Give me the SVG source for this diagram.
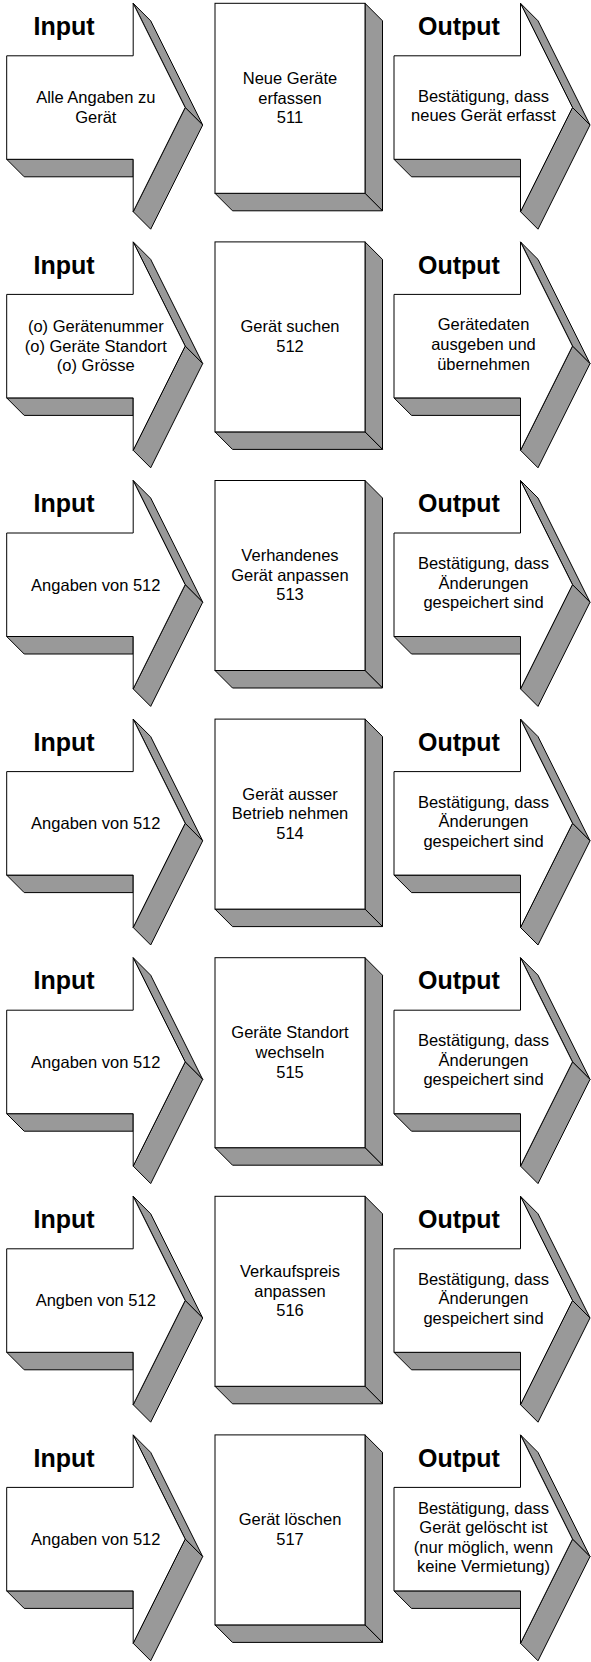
<svg xmlns="http://www.w3.org/2000/svg" xmlns:xlink="http://www.w3.org/1999/xlink" width="591" height="1662" viewBox="0 0 591 1662">
<style>
.front{fill:#ffffff;stroke:#000000;stroke-width:1;stroke-linejoin:miter}
.side{fill:#999999;stroke:#000000;stroke-width:1;stroke-linejoin:miter}
.title{font-family:"Liberation Sans",Arial,sans-serif;font-weight:bold;font-size:25px;fill:#000;text-anchor:middle}
.body{font-family:"Liberation Sans",Arial,sans-serif;font-size:16.5px;fill:#000;text-anchor:middle}
</style>
<defs>
<g id="arrowShape">
<polygon class="side" points="0,156 17.5,173.5 126.5,173.5 126.5,156"/>
<polygon class="side" points="126.5,0 144,17.5 196,121.7 178.5,104.2"/>
<polygon class="side" points="178.5,104.2 196,121.7 144,225.9 126.5,208.4"/>
<polygon class="front" points="0,52.5 126.5,52.5 126.5,0 178.5,104.2 126.5,208.4 126.5,156 0,156"/>
</g>
<g id="boxShape">
<polygon class="side" points="150,0 167.5,17.5 167.5,207.5 150,190"/>
<polygon class="side" points="0,190 17.5,207.5 167.5,207.5 150,190"/>
<rect class="front" x="0" y="0" width="150" height="190"/>
</g>
</defs>
<g id="connectors"/>

<!-- Row 1 -->
<g id="input-511" transform="translate(0,3.3)">
<use xlink:href="#arrowShape" href="#arrowShape" x="6.7"/>
<text class="title" x="64" y="31.7">Input</text>
<text class="body"><tspan x="95.8" y="100.2">Alle Angaben zu</tspan><tspan x="95.8" y="119.8">Gerät</tspan></text>
</g>
<g id="process-511" transform="translate(0,3.3)">
<use xlink:href="#boxShape" href="#boxShape" x="215"/>
<text class="body"><tspan x="290" y="80.7">Neue Geräte</tspan><tspan x="290" y="100.3">erfassen</tspan><tspan x="290" y="119.9">511</tspan></text>
</g>
<g id="output-511" transform="translate(0,3.3)">
<use xlink:href="#arrowShape" href="#arrowShape" x="394"/>
<text class="title" x="459" y="31.7">Output</text>
<text class="body"><tspan x="483.5" y="98.4">Bestätigung, dass</tspan><tspan x="483.5" y="118">neues Gerät erfasst</tspan></text>
</g>

<!-- Row 2 -->
<g id="input-512" transform="translate(0,241.9)">
<use xlink:href="#arrowShape" href="#arrowShape" x="6.7"/>
<text class="title" x="64" y="31.7">Input</text>
<text class="body"><tspan x="95.8" y="90.4">(o) Gerätenummer</tspan><tspan x="95.8" y="110">(o) Geräte Standort</tspan><tspan x="95.8" y="129.6">(o) Grösse</tspan></text>
</g>
<g id="process-512" transform="translate(0,241.9)">
<use xlink:href="#boxShape" href="#boxShape" x="215"/>
<text class="body"><tspan x="290" y="90.5">Gerät suchen</tspan><tspan x="290" y="110.1">512</tspan></text>
</g>
<g id="output-512" transform="translate(0,241.9)">
<use xlink:href="#arrowShape" href="#arrowShape" x="394"/>
<text class="title" x="459" y="31.7">Output</text>
<text class="body"><tspan x="483.5" y="88.6">Gerätedaten</tspan><tspan x="483.5" y="108.2">ausgeben und</tspan><tspan x="483.5" y="127.8">übernehmen</tspan></text>
</g>

<!-- Row 3 -->
<g id="input-513" transform="translate(0,480.5)">
<use xlink:href="#arrowShape" href="#arrowShape" x="6.7"/>
<text class="title" x="64" y="31.7">Input</text>
<text class="body"><tspan x="95.8" y="110">Angaben von 512</tspan></text>
</g>
<g id="process-513" transform="translate(0,480.5)">
<use xlink:href="#boxShape" href="#boxShape" x="215"/>
<text class="body"><tspan x="290" y="80.7">Verhandenes</tspan><tspan x="290" y="100.3">Gerät anpassen</tspan><tspan x="290" y="119.9">513</tspan></text>
</g>
<g id="output-513" transform="translate(0,480.5)">
<use xlink:href="#arrowShape" href="#arrowShape" x="394"/>
<text class="title" x="459" y="31.7">Output</text>
<text class="body"><tspan x="483.5" y="88.6">Bestätigung, dass</tspan><tspan x="483.5" y="108.2">Änderungen</tspan><tspan x="483.5" y="127.8">gespeichert sind</tspan></text>
</g>

<!-- Row 4 -->
<g id="input-514" transform="translate(0,719.1)">
<use xlink:href="#arrowShape" href="#arrowShape" x="6.7"/>
<text class="title" x="64" y="31.7">Input</text>
<text class="body"><tspan x="95.8" y="110">Angaben von 512</tspan></text>
</g>
<g id="process-514" transform="translate(0,719.1)">
<use xlink:href="#boxShape" href="#boxShape" x="215"/>
<text class="body"><tspan x="290" y="80.7">Gerät ausser</tspan><tspan x="290" y="100.3">Betrieb nehmen</tspan><tspan x="290" y="119.9">514</tspan></text>
</g>
<g id="output-514" transform="translate(0,719.1)">
<use xlink:href="#arrowShape" href="#arrowShape" x="394"/>
<text class="title" x="459" y="31.7">Output</text>
<text class="body"><tspan x="483.5" y="88.6">Bestätigung, dass</tspan><tspan x="483.5" y="108.2">Änderungen</tspan><tspan x="483.5" y="127.8">gespeichert sind</tspan></text>
</g>

<!-- Row 5 -->
<g id="input-515" transform="translate(0,957.7)">
<use xlink:href="#arrowShape" href="#arrowShape" x="6.7"/>
<text class="title" x="64" y="31.7">Input</text>
<text class="body"><tspan x="95.8" y="110">Angaben von 512</tspan></text>
</g>
<g id="process-515" transform="translate(0,957.7)">
<use xlink:href="#boxShape" href="#boxShape" x="215"/>
<text class="body"><tspan x="290" y="80.7">Geräte Standort</tspan><tspan x="290" y="100.3">wechseln</tspan><tspan x="290" y="119.9">515</tspan></text>
</g>
<g id="output-515" transform="translate(0,957.7)">
<use xlink:href="#arrowShape" href="#arrowShape" x="394"/>
<text class="title" x="459" y="31.7">Output</text>
<text class="body"><tspan x="483.5" y="88.6">Bestätigung, dass</tspan><tspan x="483.5" y="108.2">Änderungen</tspan><tspan x="483.5" y="127.8">gespeichert sind</tspan></text>
</g>

<!-- Row 6 -->
<g id="input-516" transform="translate(0,1196.3)">
<use xlink:href="#arrowShape" href="#arrowShape" x="6.7"/>
<text class="title" x="64" y="31.7">Input</text>
<text class="body"><tspan x="95.8" y="110">Angben von 512</tspan></text>
</g>
<g id="process-516" transform="translate(0,1196.3)">
<use xlink:href="#boxShape" href="#boxShape" x="215"/>
<text class="body"><tspan x="290" y="80.7">Verkaufspreis</tspan><tspan x="290" y="100.3">anpassen</tspan><tspan x="290" y="119.9">516</tspan></text>
</g>
<g id="output-516" transform="translate(0,1196.3)">
<use xlink:href="#arrowShape" href="#arrowShape" x="394"/>
<text class="title" x="459" y="31.7">Output</text>
<text class="body"><tspan x="483.5" y="88.6">Bestätigung, dass</tspan><tspan x="483.5" y="108.2">Änderungen</tspan><tspan x="483.5" y="127.8">gespeichert sind</tspan></text>
</g>

<!-- Row 7 -->
<g id="input-517" transform="translate(0,1434.9)">
<use xlink:href="#arrowShape" href="#arrowShape" x="6.7"/>
<text class="title" x="64" y="31.7">Input</text>
<text class="body"><tspan x="95.8" y="110">Angaben von 512</tspan></text>
</g>
<g id="process-517" transform="translate(0,1434.9)">
<use xlink:href="#boxShape" href="#boxShape" x="215"/>
<text class="body"><tspan x="290" y="90.5">Gerät löschen</tspan><tspan x="290" y="110.1">517</tspan></text>
</g>
<g id="output-517" transform="translate(0,1434.9)">
<use xlink:href="#arrowShape" href="#arrowShape" x="394"/>
<text class="title" x="459" y="31.7">Output</text>
<text class="body"><tspan x="483.5" y="78.8">Bestätigung, dass</tspan><tspan x="483.5" y="98.4">Gerät gelöscht ist</tspan><tspan x="483.5" y="118">(nur möglich, wenn</tspan><tspan x="483.5" y="137.6">keine Vermietung)</tspan></text>
</g>
</svg>
